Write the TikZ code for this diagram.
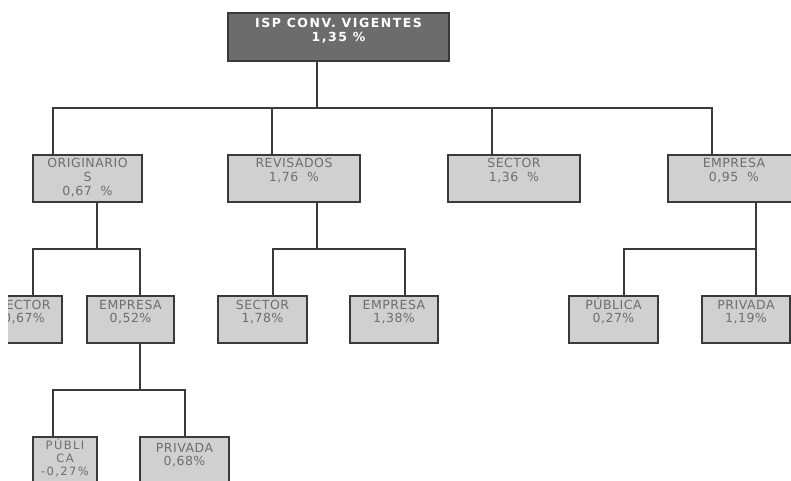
\documentclass[tikz,border=0pt]{standalone}
\usepackage{fontspec}
\newfontfamily\boxfont[LetterSpace=4]{DejaVu Sans}
\newfontfamily\rootfont[LetterSpace=12]{DejaVu Sans}
\definecolor{boxfill}{RGB}{208,208,208}
\definecolor{rootfill}{RGB}{108,108,108}
\definecolor{boxtxt}{RGB}{110,110,110}
\definecolor{edge}{RGB}{58,58,58}
\newcommand{\btext}[4]{\parbox[t][#2pt][t]{#1pt}{\centering\vspace*{#3pt}#4}}
\begin{document}
\begin{tikzpicture}[x=1pt,y=-1pt,
  box/.style={draw=edge, line width=1.7pt, fill=boxfill, inner sep=0pt, outer sep=0pt,
    anchor=north west, text=boxtxt, font=\boxfont\fontsize{12.5}{13}\selectfont},
  lvA/.style={box, font=\boxfont\fontsize{12.5}{14}\selectfont},
  rootbox/.style={box, fill=rootfill, text=white, font=\rootfont\bfseries\fontsize{12.5}{14.5}\selectfont},
  conn/.style={draw=edge, line width=1.7pt}]
\useasboundingbox (0,0) rectangle (791,481);
\begin{scope}
\clip (8,0) rectangle (791,481);
% nodes
\node[rootbox] (root) at (228,13) {\btext{221}{48}{5}{ISP CONV. VIGENTES\hspace*{29pt}\\1,35~\%}};
\node[lvA] (orig) at (33,155) {\btext{109}{47}{3}{ORIGINARIO\\S\\0,67~~\%}};
\node[lvA] (rev) at (228,155) {\btext{132}{47}{3}{REVISADOS\\1,76~~\%}};
\node[lvA] (sec) at (448,155) {\btext{132}{47}{3}{SECTOR\\1,36~~\%}};
\node[lvA] (emp) at (668,155) {\btext{132}{47}{3}{EMPRESA\\0,95~~\%}};
\node[box] (osec) at (-14,296) {\btext{76}{47}{4}{SECTOR\\0,67\%}};
\node[box] (oemp) at (87,296) {\btext{87}{47}{4}{EMPRESA\\0,52\%}};
\node[box] (rsec) at (218,296) {\btext{89}{47}{4}{SECTOR\\1,78\%}};
\node[box] (remp) at (350,296) {\btext{88}{47}{4}{EMPRESA\\1,38\%}};
\node[box] (epub) at (569,296) {\btext{89}{47}{1.5}{PÚBLICA\\0,27\%}};
\node[box] (epriv) at (702,296) {\btext{88}{47}{4}{PRIVADA\\1,19\%}};
\node[box, font=\rootfont\fontsize{11.5}{13}\selectfont] (opub) at (33,437) {\btext{64}{50}{2}{PÚBLI\\CA\\-0,27\%}};
\node[box] (opriv) at (140,437) {\btext{89}{50}{6}{PRIVADA\\0,68\%}};
% bus coordinates
\coordinate (r0) at (317,108);
\coordinate (bL) at (53,108);
\coordinate (bR) at (712,108);
\coordinate (o0) at (97,249);
\coordinate (oL) at (33,249);
\coordinate (oR) at (140,249);
\coordinate (v0) at (317,249);
\coordinate (vL) at (273,249);
\coordinate (vR) at (405,249);
\coordinate (e0) at (756,249);
\coordinate (eL) at (624,249);
\coordinate (q0) at (140,390);
\coordinate (qL) at (53,390);
\coordinate (qR) at (185,390);
\coordinate (sx) at (492,108);
\coordinate (rx) at (272,108);
% connectors level 0-1
\draw[conn] (root.south -| r0) -- (r0);
\draw[conn] (orig.north -| bL) -- (bL) -- (bR) -- (bR |- emp.north);
\draw[conn] (rx) -- (rx |- rev.north);
\draw[conn] (sx) -- (sx |- sec.north);
% level 1-2
\draw[conn] (orig.south -| o0) -- (o0);
\draw[conn] (osec.north -| oL) -- (oL) -- (oR) -- (oR |- oemp.north);
\draw[conn] (rev.south -| v0) -- (v0);
\draw[conn] (rsec.north -| vL) -- (vL) -- (vR) -- (vR |- remp.north);
\draw[conn] (emp.south -| e0) -- (e0 |- epriv.north);
\draw[conn] (epub.north -| eL) -- (eL) -- (e0);
% level 2-3
\draw[conn] (oemp.south -| q0) -- (q0);
\draw[conn] (opub.north -| qL) -- (qL) -- (qR) -- (qR |- opriv.north);
\end{scope}
\end{tikzpicture}
\end{document}
